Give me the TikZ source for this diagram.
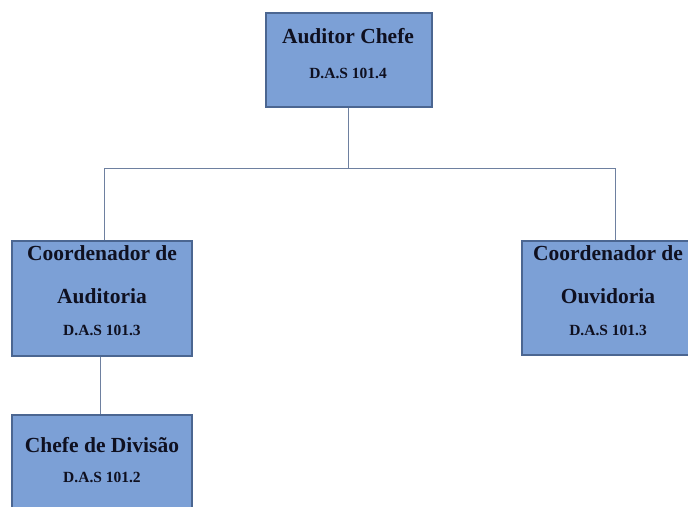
\documentclass[tikz,border=0pt]{standalone}
\usepackage{fontspec}
\setmainfont{Liberation Serif}
\definecolor{boxfill}{RGB}{124,160,214}
\definecolor{boxedge}{RGB}{75,102,145}
\definecolor{linkcol}{RGB}{110,128,160}
\definecolor{txt}{RGB}{15,16,32}
\begin{document}
\begin{tikzpicture}[x=1pt,y=-1pt,
  orgbox/.style={draw=boxedge, fill=boxfill, line width=1.2pt, inner sep=0pt},
  bigtext/.style={anchor=base, inner sep=0pt, text=txt, font=\fontsize{21.5}{23}\selectfont\bfseries},
  smalltext/.style={anchor=base, inner sep=0pt, text=txt, font=\fontsize{15.5}{16}\selectfont\bfseries},
  link/.style={draw=linkcol, line width=1pt}]
\useasboundingbox (0,0) rectangle (688,506);
\clip (0,0) rectangle (688,506);
\fill[white] (0,0) rectangle (688,506);
% boxes
\node[orgbox, minimum width=166pt, minimum height=94pt] (top) at (349,60) {};
\node[orgbox, minimum width=180pt, minimum height=115pt] (left) at (102,298.5) {};
\node[orgbox, minimum width=172pt, minimum height=114pt] (right) at (608,298) {};
\node[orgbox, minimum width=180pt, minimum height=110pt] (bottom) at (102,470) {};
% texts
\node[bigtext] (topA) at (348,43) {Auditor Chefe};
\node[smalltext] (topB) at (348,78) {D.A.S 101.4};
\node[bigtext] (leftA) at (102,260) {Coordenador de};
\node[bigtext] (leftB) at (102,303) {Auditoria};
\node[smalltext] (leftC) at (102,335) {D.A.S 101.3};
\node[bigtext] (rightA) at (608,260) {Coordenador de};
\node[bigtext] (rightB) at (608,303) {Ouvidoria};
\node[smalltext] (rightC) at (608,335) {D.A.S 101.3};
\node[bigtext] (botA) at (102,452) {Chefe de Divisão};
\node[smalltext] (botB) at (102,482) {D.A.S 101.2};
% connectors
\coordinate (hub) at (348,168);
\coordinate (hl) at (104,168);
\coordinate (hr) at (615,168);
\draw[link] (top.south -| hub) -- (hub);
\draw[link] (left.north -| hl) -- (hl) -- (hr) -- (right.north -| hr);
\coordinate (vl) at (100,0);
\draw[link] (left.south -| vl) -- (bottom.north -| vl);
\end{tikzpicture}
\end{document}
